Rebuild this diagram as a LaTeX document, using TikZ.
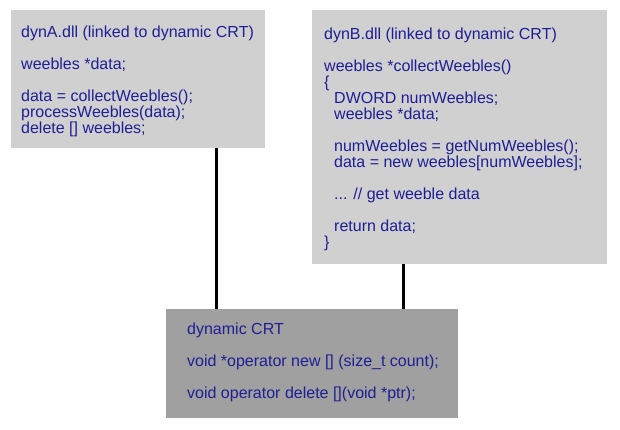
\documentclass[tikz,border=0pt]{standalone}
\usepackage{fontspec}
\setmainfont{Liberation Sans}
\definecolor{dllgray}{RGB}{208,208,208}
\definecolor{crtgray}{RGB}{160,160,160}
\definecolor{codeblue}{RGB}{30,30,150}

\begin{document}
\begin{tikzpicture}[x=1pt, y=-1pt,
    codebox/.style={anchor=north west, inner sep=0pt},
    codetext/.style={anchor=west, align=left, inner sep=0pt, text=codeblue,
        font=\fontsize{16}{16}\selectfont},
    link/.style={black, line width=3pt}]
            \useasboundingbox (0,0) rectangle (620,430);
            % boxes
            \node[codebox, fill=dllgray, minimum width=254pt, minimum height=138pt] (dynA) at (11,10) {};
            \node[codebox, fill=dllgray, minimum width=295pt, minimum height=254pt] (dynB) at (312,10) {};
            \node[codebox, fill=crtgray, minimum width=292pt, minimum height=109pt] (crt) at (166,309) {};
            % the code in them
            \node[codetext, yshift=-2pt] (dynAcode) at ([xshift=10pt]dynA.west)
                {dynA.dll (linked to dynamic CRT)\\[16pt]
                 weebles *data;\\[16pt]
                 data = collectWeebles();\\
                 processWeebles(data);\\
                 delete [] weebles;};
            \node[codetext, yshift=-2pt] (dynBcode) at ([xshift=12pt]dynB.west)
                {dynB.dll (linked to dynamic CRT)\\[16pt]
                 weebles *collectWeebles()\\
                 \{\\
                 \hspace*{10pt}DWORD numWeebles;\\
                 \hspace*{10pt}weebles *data;\\[16pt]
                 \hspace*{10pt}numWeebles = getNumWeebles();\\
                 \hspace*{10pt}data = new weebles[numWeebles];\\[16pt]
                 \hspace*{10pt}... // get weeble data\\[16pt]
                 \hspace*{10pt}return data;\\
                 \}};
            \node[codetext, yshift=1pt] (crtcode) at ([xshift=21pt]crt.west)
                {dynamic CRT\\[16pt]
                 void *operator new [] (size\_t count);\\[16pt]
                 void operator delete [](void *ptr);};
            % links
            \coordinate (linkA) at (216,0);
            \coordinate (linkB) at (403,0);
            \draw[link] (dynA.south -| linkA) -- (crt.north -| linkA);
            \draw[link] (dynB.south -| linkB) -- (crt.north -| linkB);
        \end{tikzpicture}
\end{document}
